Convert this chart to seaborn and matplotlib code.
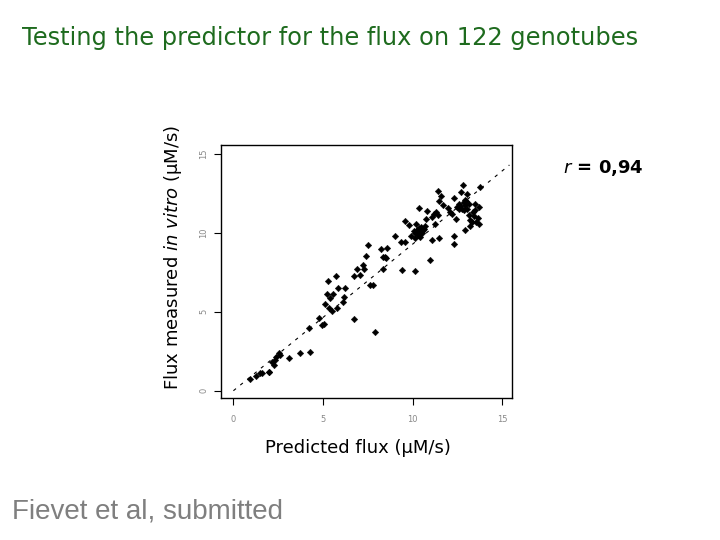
import numpy as np
import pandas as pd
import seaborn as sns
import matplotlib

matplotlib.use("agg")

import matplotlib.pyplot as plt

# Predicted flux (x) and measured flux (y)
predicted = [
    0.91, 1.25, 1.50, 1.60, 1.97, 2.01, 2.16, 2.25, 2.30, 2.40, 2.53, 2.62,
    3.09, 3.74, 4.29, 4.20, 4.76, 4.95, 5.07, 5.13, 5.26, 5.72, 5.22, 5.54,
    5.32, 5.50, 5.78, 5.84, 6.15, 6.25, 6.71, 6.71, 7.04, 6.90, 7.23, 7.27,
    7.42, 7.49, 7.64, 7.77, 7.88, 8.22, 8.57, 8.35, 8.54, 8.35, 8.45, 9.03,
    9.37, 9.59, 9.41, 9.55, 9.78, 10.15, 10.20, 10.33, 10.11, 10.15, 10.24,
    10.33, 10.43, 10.52, 10.61, 10.71, 10.74, 10.80, 10.98, 11.08, 11.18,
    11.30, 11.39, 11.26, 11.41, 11.60, 11.48, 11.69, 11.45, 12.10, 12.32,
    12.29, 12.32, 12.42, 12.47, 12.57, 12.71, 12.79, 12.84, 12.90, 12.94,
    13.03, 13.03, 12.75, 13.12, 13.16, 13.22, 12.94, 13.22, 13.31, 13.40,
    13.49, 13.55, 13.64, 13.72, 13.77, 13.68, 10.05, 10.40, 10.28, 10.60,
    12.60, 12.85, 13.00, 12.65, 13.35, 11.10, 9.90, 10.45, 12.20, 13.50,
    11.95, 6.10, 5.40,
]
measured = [
    0.72, 0.95, 1.14, 1.10, 1.20, 1.20, 1.84, 1.62, 1.94, 2.15, 2.36, 2.26,
    2.05, 2.37, 2.47, 4.00, 4.62, 4.16, 4.20, 5.49, 6.96, 7.26, 6.14, 6.14,
    5.21, 5.06, 5.21, 6.52, 5.95, 6.48, 4.54, 7.28, 7.32, 7.74, 7.95, 7.74,
    8.52, 9.26, 6.69, 6.69, 3.69, 8.97, 9.05, 8.48, 8.42, 7.68, 8.45, 9.79,
    9.43, 9.43, 7.64, 10.76, 10.49, 7.57, 10.59, 11.60, 9.96, 9.70, 10.17,
    10.34, 9.75, 10.00, 10.27, 10.42, 10.91, 11.39, 8.31, 9.54, 11.18,
    11.33, 11.12, 10.59, 12.64, 12.32, 12.00, 11.75, 9.70, 11.33, 9.81,
    9.32, 12.24, 10.86, 11.65, 11.54, 12.59, 13.02, 11.96, 12.11, 11.75,
    12.49, 11.54, 11.54, 11.86, 11.12, 10.80, 10.17, 10.42, 10.70, 11.06,
    11.86, 10.70, 10.97, 11.65, 12.91, 10.59, 10.10, 10.05, 9.85, 10.20,
    11.80, 11.45, 12.00, 11.70, 11.30, 11.00, 9.80, 10.35, 11.20, 11.45,
    11.60, 5.60, 5.90,
]

# Reference line drawn on the plot
line_x = [0.0, 15.4]
line_y = [0.0, 14.3]

x_ticks = [0, 5, 10, 15]
y_ticks = [0, 5, 10, 15]

title = "Testing the predictor for the flux on 122 genotubes"
r_label = r"$\bf{\it{r}}$ = 0,94"
x_label = "Predicted flux (µM/s)"
y_label = r"Flux measured $\it{in\ vitro}$ (µM/s)"
source = "Fievet et al, submitted"

df = pd.DataFrame({"predicted": predicted, "measured": measured})
line_df = pd.DataFrame({"x": line_x, "y": line_y})

sns.set_style("white")
plt.rcParams["font.family"] = ["DejaVu Sans"]

fig = plt.figure(figsize=(7.2, 5.4), dpi=100)
ax = fig.add_axes([0.307, 0.263, 0.404, 0.468])

sns.lineplot(data=line_df, x="x", y="y", ax=ax, color="black",
             linewidth=0.8, linestyle=(0, (3, 5)))
sns.scatterplot(data=df, x="predicted", y="measured", ax=ax, marker="D",
                s=11, color="black", edgecolor="black", linewidth=0.3)

ax.set_xlim(-0.69, 15.54)
ax.set_ylim(-0.46, 15.55)
ax.set_xticks(x_ticks)
ax.set_yticks(y_ticks)
ax.set_xticklabels([str(t) for t in x_ticks], fontsize=6, color="#888888")
ax.set_yticklabels([str(t) for t in y_ticks], fontsize=6, color="#888888",
                   rotation=90, va="center")
ax.tick_params(axis="x", direction="out", length=5, width=0.8,
               color="black", bottom=True, pad=7)
ax.tick_params(axis="y", direction="out", length=5, width=0.8,
               color="black", left=True, pad=4)
for spine in ax.spines.values():
    spine.set_color("black")
    spine.set_linewidth(1.0)

# labels sit a bit off-centre in the original slide
ax.set_xlabel(x_label, fontsize=13, color="black")
ax.set_ylabel(y_label, fontsize=13, color="black")
ax.xaxis.set_label_coords(0.471, -0.162)
ax.yaxis.set_label_coords(-0.128, 0.555)

fig.text(0.03, 0.93, title, fontsize=17.4, color="#1e6b1e", ha="left", va="center")
fig.text(0.782, 0.689, r_label, fontsize=13, fontweight="bold", color="black",
         ha="left", va="center")
fig.text(0.016, 0.052, source, fontsize=20, color="#7f7f7f",
         family="Liberation Sans", ha="left", va="center")

fig.savefig("out.png", dpi=100)
